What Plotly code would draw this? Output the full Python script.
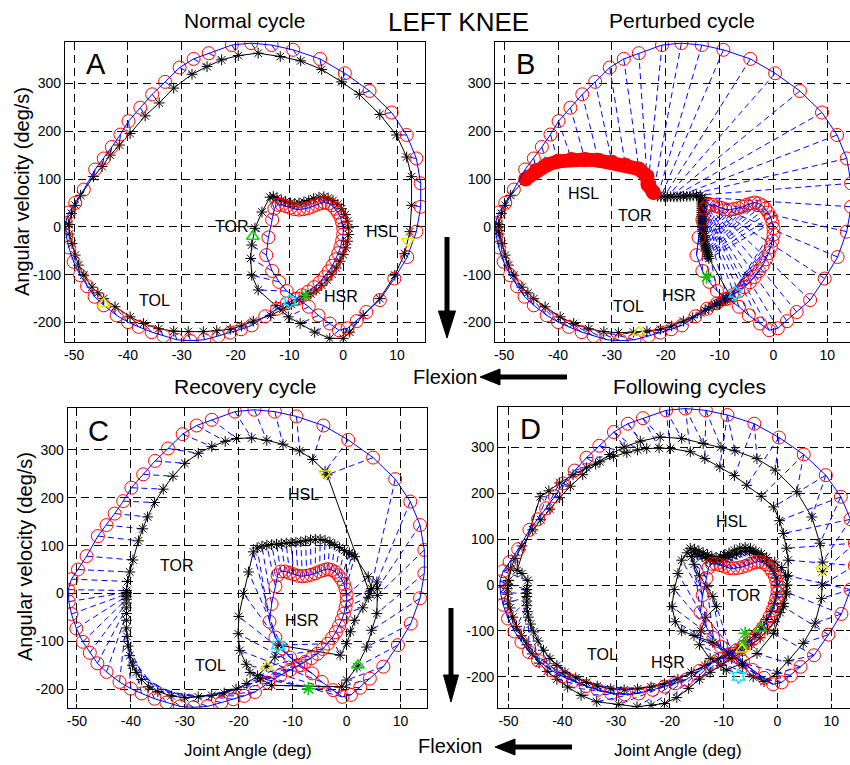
import plotly.graph_objects as go

# ---------------------------------------------------------------------------
# Reference limit cycle (knee angle in deg, angular velocity in deg/s),
# one sample per time step, starting at maximum flexion.
REF = [
    (-51.6, 8), (-51.0, 30), (-49.8, 50), (-48.2, 78), (-46.1, 120), (-44.5, 143),
    (-43.0, 167), (-41.4, 193), (-39.9, 221), (-37.7, 249), (-35.5, 277), (-33.1, 303),
    (-30.4, 333), (-27.8, 351), (-25.0, 363), (-20.7, 380), (-17.1, 384), (-13.3, 380),
    (-9.3, 370), (-4.3, 351), (0.3, 321), (4.9, 284), (9.0, 239), (11.8, 192),
    (13.6, 143), (14.4, 91), (14.4, 42), (13.6, -10), (11.9, -63), (9.5, -108),
    (6.8, -153), (4.3, -178), (2.5, -197), (0.8, -212), (-0.8, -216), (-2.5, -202),
    (-4.6, -185), (-6.4, -167), (-8.5, -150), (-10.5, -134), (-11.9, -115), (-13.2, -92),
    (-14.3, -59), (-13.9, -22), (-13.2, 15),
    (-12.8, 38), (-12.2, 46), (-11.4, 46), (-10.6, 43), (-9.8, 40), (-9.0, 37),
    (-8.2, 36), (-7.4, 37), (-6.6, 39), (-5.8, 42), (-5.0, 46), (-4.2, 49),
    (-3.5, 51), (-2.8, 49), (-2.1, 45), (-1.5, 38), (-1.0, 30), (-0.5, 20),
    (-0.2, 9), (0.0, -3), (0.0, -16), (-0.2, -29), (-0.5, -42), (-0.9, -55),
    (-1.4, -68), (-2.0, -81), (-2.7, -93), (-3.5, -105), (-4.4, -116), (-5.4, -126),
    (-6.5, -135), (-7.7, -143), (-9.0, -151), (-10.5, -160), (-12.3, -171), (-14.5, -187),
    (-17.0, -206), (-19.0, -214), (-21.0, -221), (-23.2, -228), (-25.8, -236), (-28.4, -238),
    (-30.9, -236), (-33.4, -228), (-35.6, -220), (-38.0, -209), (-40.0, -199), (-42.1, -185),
    (-44.5, -164), (-46.2, -146), (-47.6, -124), (-48.9, -101), (-50.1, -73), (-51.0, -43),
    (-51.5, -17),
]

# Measured knee trajectory, normal cycle (same time steps as REF)
NORMAL = [
    (-51.0, 5), (-50.5, 28), (-49.8, 45), (-48.8, 66), (-46.4, 105), (-44.8, 126),
    (-43.3, 150), (-41.6, 171), (-39.6, 195), (-36.8, 232), (-34.2, 259), (-31.5, 290),
    (-28.1, 319), (-25.3, 335), (-22.6, 349), (-19.5, 358), (-15.8, 363), (-11.7, 356),
    (-7.9, 347), (-4.0, 329), (-0.3, 303), (3.0, 277), (6.8, 235), (9.9, 192),
    (11.8, 146), (12.7, 105), (12.7, 45), (12.4, -10), (11.4, -56), (9.6, -101),
    (6.8, -150), (3.7, -185), (1.2, -220), (0.0, -233), (-2.5, -233), (-5.3, -220),
    (-8.0, -202), (-10.2, -188), (-12.5, -165), (-15.8, -132), (-17.0, -101), (-17.2, -66),
    (-17.0, -38), (-16.4, -3), (-15.1, 31),
    (-13.6, 62), (-13.0, 64), (-12.3, 60), (-11.5, 56), (-10.7, 53), (-9.8, 50),
    (-9.0, 49), (-8.2, 50), (-7.3, 52), (-6.4, 55), (-5.5, 59), (-4.5, 62),
    (-3.6, 63), (-2.8, 60), (-1.9, 55), (-1.0, 47), (-0.3, 38), (0.4, 26),
    (0.8, 12), (1.0, -2), (1.0, -16), (0.8, -30), (0.5, -44), (0.0, -58),
    (-0.6, -72), (-1.3, -86), (-2.1, -99), (-3.0, -111), (-4.0, -122), (-5.0, -132),
    (-6.0, -140), (-7.0, -145), (-8.2, -153), (-9.6, -162), (-11.2, -172), (-13.5, -185),
    (-16.7, -197), (-18.9, -207), (-21.0, -214), (-23.5, -217), (-26.0, -219), (-28.8, -219),
    (-31.5, -218), (-34.3, -213), (-37.1, -202), (-39.6, -188), (-42.4, -167), (-44.5, -150),
    (-45.6, -138), (-46.7, -126), (-48.2, -101), (-49.2, -80), (-49.8, -59), (-50.4, -35),
    (-50.9, -15),
]

# Perturbed cycle
PERTURBED = [
    (-51.0, 5), (-50.5, 28), (-49.8, 45), (-48.8, 66), (-46.0, 100), (-44.0, 118),
    (-42.0, 130), (-40.0, 137), (-37.5, 141), (-35.0, 141), (-32.5, 139), (-30.0, 135),
    (-27.5, 129), (-25.0, 121), (-23.5, 106), (-23.3, 88), (-22.3, 72), (-21.5, 64),
    (-20.9, 63), (-20.3, 63), (-19.7, 63), (-19.1, 63), (-18.5, 63), (-17.9, 63),
    (-17.3, 63), (-16.7, 64), (-16.1, 64), (-15.5, 64), (-14.9, 65), (-14.3, 65),
    (-13.6, 66), (-13.3, 62), (-13.3, 58), (-13.3, 54), (-13.3, 50), (-13.3, 46),
    (-13.3, 42), (-13.3, 38), (-13.3, 34), (-13.3, 30), (-13.3, 26), (-13.3, 22),
    (-13.3, 18), (-13.3, 14), (-13.3, 10), (-13.3, 6), (-13.2, 2), (-13.2, -2),
    (-13.2, -6), (-13.1, -10), (-13.1, -14), (-13.0, -18), (-13.0, -22), (-12.9, -26),
    (-12.9, -30), (-12.8, -34), (-12.7, -38), (-12.6, -42), (-12.5, -46), (-12.4, -50),
    (-12.3, -54), (-12.2, -58), (-12.1, -62), (-12.0, -66),
    (-8.0, -145), (-8.3, -147), (-8.6, -149), (-8.9, -151), (-9.2, -153), (-9.5, -155),
    (-9.8, -157), (-10.1, -159), (-10.5, -161), (-10.9, -163), (-11.4, -166), (-12.0, -170),
    (-12.7, -174), (-13.5, -180), (-15.0, -190), (-16.7, -197), (-18.9, -207), (-21.0, -214),
    (-23.5, -218), (-26.0, -220), (-28.8, -221), (-31.5, -219), (-34.3, -213), (-37.1, -202),
    (-39.6, -188), (-42.4, -167), (-44.5, -150), (-45.6, -138), (-46.7, -126), (-48.2, -101),
    (-49.2, -80), (-49.8, -59), (-50.4, -35), (-50.9, -15), (-51.0, -8), (-51.0, 0),
]
# samples of the perturbed cycle lying on the stalled swing segment
STALL_START, STALL_END = 4, 17

# Recovery cycle
RECOVERY = [
    (-40.8, 6), (-40.6, 25), (-40.2, 45), (-39.6, 70), (-38.6, 110), (-37.8, 135),
    (-36.9, 160), (-35.6, 190), (-34.0, 218), (-32.2, 245), (-30.0, 272), (-27.5, 293),
    (-25.0, 307), (-22.5, 318), (-20.4, 324), (-17.6, 325), (-14.8, 320), (-11.8, 312),
    (-8.7, 298), (-6.3, 280), (-4.0, 255), (-3.6, 248), (4.3, 0), (5.6, 24),
    (5.7, 10), (5.7, -4), (5.6, -42), (4.6, -77), (3.7, -112), (1.9, -154),
    (0.0, -181), (-0.9, -195), (-13.9, -192), (-16.0, -178), (-17.9, -165), (-18.6, -148),
    (-19.8, -119), (-20.1, -84), (-20.0, -48), (-19.1, 0), (-18.2, 45), (-17.3, 87),
    (-16.6, 95), (-15.7, 99), (-14.8, 101), (-13.9, 102), (-13.0, 103), (-12.1, 104),
    (-11.2, 105), (-10.3, 106), (-9.4, 107), (-8.5, 108), (-7.6, 110), (-6.7, 112),
    (-5.8, 113), (-4.9, 113), (-4.0, 111), (-3.1, 107), (-2.2, 102), (-1.3, 96),
    (-0.4, 90), (0.5, 85), (1.0, 81), (1.5, 77), (4.0, 35), (4.6, 10),
    (4.0, -8), (3.0, -30), (1.5, -56), (0.7, -80), (0.0, -105), (-1.2, -129),
    (-12.7, -108), (-13.3, -133), (-14.8, -153), (-16.5, -172), (-18.5, -188), (-20.5, -200),
    (-22.7, -208), (-25.0, -213), (-27.5, -216), (-30.0, -218), (-32.5, -214), (-35.0, -205),
    (-36.7, -195), (-38.0, -180), (-39.0, -165), (-39.7, -150), (-40.2, -130), (-40.5, -110),
    (-40.7, -90), (-40.8, -72), (-40.8, -56), (-40.8, -42), (-40.8, -30), (-40.8, -20),
    (-40.8, -12), (-40.8, -6), (-40.8, -1), (-40.8, 2),
]

# Following cycles (two successive cycles)
FOLLOW_1 = [
    (-50.0, 10), (-49.6, 35), (-48.8, 58), (-47.5, 85), (-45.5, 120), (-44.0, 142),
    (-42.3, 165), (-40.5, 190), (-38.5, 215), (-36.2, 240), (-33.8, 263), (-31.2, 284),
    (-28.5, 300), (-25.5, 313), (-21.8, 322), (-17.8, 319), (-13.8, 308), (-10.5, 300),
    (-7.9, 292), (-3.8, 275), (-0.4, 250), (3.6, 203), (6.4, 148), (7.9, 91),
    (8.4, 50), (8.4, 29), (8.3, 0), (8.2, -29), (7.0, -83), (4.8, -127),
    (2.0, -165), (-0.1, -192), (-2.5, -210), (-4.5, -200), (-6.5, -175), (-9.0, -150),
    (-12.0, -125), (-15.5, -110), (-17.8, -100), (-19.0, -80), (-19.6, -47), (-19.2, -10),
    (-18.5, 25), (-17.8, 54), (-16.8, 70), (-16.2, 80), (-15.4, 78), (-14.6, 74),
    (-13.8, 70), (-13.0, 66), (-12.2, 62), (-11.4, 60), (-10.6, 62), (-9.8, 66),
    (-9.0, 70), (-8.0, 76), (-7.0, 80), (-6.0, 82), (-5.0, 80), (-4.0, 74),
    (-3.0, 68), (-2.0, 60), (-0.5, 50), (0.8, 38), (1.5, 20), (1.8, 0),
    (1.7, -20), (1.2, -40), (0.5, -60), (-0.5, -80), (-1.8, -98), (-3.2, -115),
    (-4.8, -130), (-6.5, -145), (-8.5, -160), (-10.5, -175), (-12.5, -190), (-14.5, -205),
    (-16.5, -225), (-18.7, -245), (-21.0, -258), (-23.5, -262), (-26.1, -265), (-29.5, -260),
    (-33.6, -254), (-36.5, -240), (-39.0, -222), (-41.0, -205), (-42.8, -188), (-44.3, -170),
    (-45.6, -150), (-46.6, -130), (-47.6, -110), (-48.5, -90), (-49.2, -70), (-49.7, -50),
    (-50.0, -35), (-50.2, -20), (-50.2, -8), (-50.1, 2),
]
FOLLOW_2 = [
    (-46.6, -10), (-46.4, 10), (-47.5, 25), (-48.4, 32), (-44.1, 192), (-42.5, 205),
    (-40.5, 222), (-38.0, 240), (-35.5, 255), (-33.0, 268), (-30.5, 280), (-28.0, 288),
    (-26.0, 294), (-24.3, 297), (-22.0, 298), (-19.9, 297), (-16.2, 290), (-13.5, 275),
    (-10.7, 257), (-8.0, 238), (-5.7, 217), (-3.0, 193), (-0.7, 170), (0.4, 140),
    (1.1, 112), (1.7, 80), (2.0, 54), (2.0, 20), (1.6, -15), (1.1, -47),
    (-0.7, -105), (-3.8, -149), (-6.5, -170), (-9.5, -185), (-12.5, -160), (-14.5, -130),
    (-14.2, -100), (-13.3, -70), (-11.3, -47), (-12.0, -25), (-13.1, -4), (-14.5, 20),
    (-15.5, 45), (-16.0, 62), (-15.5, 70), (-14.8, 66), (-14.0, 62), (-13.2, 58),
    (-12.4, 55), (-11.6, 53), (-10.8, 54), (-10.0, 57), (-9.2, 60), (-8.4, 64),
    (-7.6, 68), (-6.8, 72), (-6.0, 74), (-5.2, 74), (-4.4, 70), (-3.6, 66),
    (-2.8, 60), (-2.0, 52), (-1.2, 42), (-0.6, 30), (-0.2, 15), (0.0, 0),
    (-0.2, -20), (-0.6, -40), (-1.2, -58), (-2.0, -75), (-3.0, -92), (-4.2, -108),
    (-5.6, -122), (-7.2, -135), (-9.0, -148), (-11.0, -160), (-13.5, -175), (-16.0, -190),
    (-18.5, -205), (-21.0, -215), (-23.5, -222), (-26.0, -226), (-28.5, -228), (-31.0, -226),
    (-33.5, -220), (-35.5, -212), (-37.5, -202), (-39.5, -190), (-41.0, -175), (-42.3, -160),
    (-43.5, -142), (-44.5, -122), (-45.3, -102), (-45.9, -85), (-46.3, -70), (-46.5, -58),
    (-46.6, -45), (-46.6, -35), (-46.6, -25), (-46.6, -18),
]

# Gait events: (x, y, symbol, colour)
EVENTS = {
    "A": [(-16.8, -20, "triangle-up-open", "#00dd00"), (-44.5, -160, "triangle-up-open", "#e8e800"),
          (12.0, -30, "triangle-down-open", "#e8e800"), (-9.9, -155, "hexagram-open", "#00e5ff"),
          (-7.0, -143, "asterisk-open", "#00cc00")],
    "B": [(-12.4, -105, "asterisk-open", "#00cc00"), (-7.1, -139, "hexagram-open", "#00e5ff"),
          (-25.0, -220, "triangle-up-open", "#e8e800")],
    "C": [(-4.0, 250, "triangle-down-open", "#e8e800"), (-12.7, -108, "hexagram-open", "#00e5ff"),
          (-14.8, -153, "triangle-up-open", "#e8e800"), (2.1, -150, "triangle-up-open", "#00dd00"),
          (-7.1, -199, "asterisk-open", "#00cc00")],
    "D": [(8.3, 33, "triangle-down-open", "#e8e800"), (-6.0, -105, "asterisk-open", "#00cc00"),
          (-6.3, -128, "asterisk-open", "#00cc00"), (-3.2, -94, "triangle-up-open", "#00dd00"),
          (-6.6, -140, "triangle-up-open", "#e8e800"), (-7.2, -199, "hexagram-open", "#00e5ff")],
}

# Event labels placed in each panel: (text, x, y)
LABELS = {
    "A": [("TOR", -20.7, 0), ("HSL", 7.1, -10), ("TOL", -35.1, -153), ("HSR", -0.5, -146)],
    "B": [("HSL", -35.3, 70), ("TOR", -25.8, 24), ("HSR", -17.6, -143), ("TOL", -26.9, -167)],
    "C": [("HSL", -8.0, 206), ("TOR", -31.5, 59), ("HSR", -8.3, -56), ("TOL", -25.3, -150)],
    "D": [("HSL", -8.5, 138), ("TOR", -6.3, -22), ("TOL", -32.6, -152), ("HSR", -20.3, -169)],
}

PANEL_TITLES = {"A": "Normal cycle", "B": "Perturbed cycle",
                "C": "Recovery cycle", "D": "Following cycles"}
X_TICKS = [-50, -40, -30, -20, -10, 0, 10]
X_TICK_TEXT = ["-50", "-40", "-30", "-20", "-10", "0", "10"]
Y_TICKS = [-200, -100, 0, 100, 200, 300]
Y_TICK_TEXT = ["-200", "-100", "0", "100", "200", "300"]

# ---------------------------------------------------------------------------
W, H = 850, 765
FONT = "Liberation Sans, Arial, Helvetica, sans-serif"


def px(x):
    return x / W


def py(y):
    return 1 - y / H


# panel frames in pixels: (left, right, top, bottom), axis ranges
PANELS = {
    "A": dict(ax="", frame=(65, 425, 41.7, 341.7), xr=[-51.7, 15.2], yr=[-240, 387]),
    "B": dict(ax="2", frame=(495, 850, 41.7, 341.7), xr=[-51.7, 14.2], yr=[-240, 387]),
    "C": dict(ax="3", frame=(67.7, 427.3, 408.3, 708.3), xr=[-51.7, 14.95], yr=[-240, 387]),
    "D": dict(ax="4", frame=(498.3, 850, 406.7, 707.7), xr=[-51.9, 13.5], yr=[-267, 388]),
}

TRAJECTORIES = {"A": [NORMAL], "B": [PERTURBED], "C": [RECOVERY], "D": [FOLLOW_1, FOLLOW_2]}


def unzip(points):
    return [p[0] for p in points], [p[1] for p in points]


fig = go.Figure()
ref_x, ref_y = unzip(REF)

for key, panel in PANELS.items():
    xa, ya = "x" + panel["ax"], "y" + panel["ax"]
    trajs = TRAJECTORIES[key]

    # dashed links between simultaneous samples of reference and measured cycles
    cx, cy = [], []
    for traj in trajs:
        tx, ty = unzip(traj)
        for a, b, c, d in zip(ref_x, ref_y, tx, ty):
            cx += [a, c, None]
            cy += [b, d, None]
    fig.add_trace(go.Scatter(x=cx, y=cy, mode="lines", xaxis=xa, yaxis=ya,
                             line=dict(color="#0000ff", width=1, dash="6px,4px"),
                             hoverinfo="skip", showlegend=False))

    # measured trajectories
    for traj in trajs:
        tx, ty = unzip(traj)
        fig.add_trace(go.Scatter(
            x=tx + [tx[0]], y=ty + [ty[0]], mode="lines+markers", xaxis=xa, yaxis=ya,
            line=dict(color="black", width=1),
            marker=dict(symbol="asterisk-open", size=9, color="black",
                        line=dict(color="black", width=1)),
            showlegend=False))

    # stalled swing segment of the perturbed cycle
    if key == "B":
        sx, sy = unzip(PERTURBED[STALL_START:STALL_END])
        fig.add_trace(go.Scatter(
            x=sx, y=sy, mode="lines+markers", xaxis=xa, yaxis=ya,
            line=dict(color="#ff0000", width=14),
            marker=dict(symbol="circle", size=15, color="#ff0000"),
            showlegend=False))

    # reference cycle: red circles joined by a blue line
    fig.add_trace(go.Scatter(
        x=ref_x, y=ref_y, mode="markers", xaxis=xa, yaxis=ya,
        marker=dict(symbol="circle-open", size=13, color="#ff0000",
                    line=dict(color="#ff0000", width=1)),
        showlegend=False))
    fig.add_trace(go.Scatter(
        x=ref_x + [ref_x[0]], y=ref_y + [ref_y[0]], mode="lines", xaxis=xa, yaxis=ya,
        line=dict(color="#0000ff", width=1), showlegend=False))

    # gait events
    for ex, ey, sym, col in EVENTS[key]:
        fig.add_trace(go.Scatter(
            x=[ex], y=[ey], mode="markers", xaxis=xa, yaxis=ya,
            marker=dict(symbol=sym, size=11, color=col, line=dict(color=col, width=1.5)),
            showlegend=False))

    # axes
    l, r, t, b = panel["frame"]
    common = dict(showline=True, mirror="ticks", linecolor="black", linewidth=1.3,
                  showgrid=True, gridcolor="black", gridwidth=1, griddash="8px,5px",
                  zeroline=False, ticks="inside", ticklen=4, tickcolor="black",
                  tickfont=dict(family=FONT, size=14, color="black"), automargin=False)
    fig.layout["xaxis" + panel["ax"]] = dict(
        domain=[px(l), px(r)], range=panel["xr"], anchor=ya,
        tickvals=X_TICKS, ticktext=X_TICK_TEXT, **common)
    fig.layout["yaxis" + panel["ax"]] = dict(
        domain=[py(b), py(t)], range=panel["yr"], anchor=xa,
        tickvals=Y_TICKS, ticktext=Y_TICK_TEXT, **common)

    # panel letter and event labels
    fig.add_annotation(x=-46.0, y=340, xref=xa, yref=ya, text=key, showarrow=False,
                       font=dict(family=FONT, size=29, color="black"))
    for text, lx, ly in LABELS[key]:
        fig.add_annotation(x=lx, y=ly, xref=xa, yref=ya, text=text, showarrow=False,
                           font=dict(family=FONT, size=16, color="black"))

# titles and axis labels (pixel positions)
TEXTS = [
    ("Normal cycle", 245, 20, 21, 0),
    ("Perturbed cycle", 682, 20, 21, 0),
    ("LEFT KNEE", 458, 22, 26, 0),
    ("Recovery cycle", 245, 386, 21, 0),
    ("Following cycles", 689, 386, 21, 0),
    ("Angular velocity (deg/s)", 22, 192, 20, -90),
    ("Angular velocity (deg/s)", 25, 557, 20, -90),
    ("Joint Angle (deg)", 248, 750, 17, 0),
    ("Joint Angle (deg)", 678, 750, 17, 0),
    ("Flexion", 445, 377, 20, 0),
    ("Flexion", 450, 746, 20, 0),
]
for text, x, y, size, angle in TEXTS:
    fig.add_annotation(x=px(x), y=py(y), xref="paper", yref="paper", text=text,
                       showarrow=False, textangle=angle, xanchor="center", yanchor="middle",
                       font=dict(family=FONT, size=size, color="black"))


# direction arrows drawn in pixel space
def arrow(x0, y0, x1, y1, head, half):
    dx, dy = x1 - x0, y1 - y0
    n = (dx * dx + dy * dy) ** 0.5
    ux, uy = dx / n, dy / n
    bx, by = x1 - ux * head, y1 - uy * head
    fig.add_shape(type="line", xref="paper", yref="paper",
                  x0=px(x0), y0=py(y0), x1=px(bx + ux * 2), y1=py(by + uy * 2),
                  line=dict(color="black", width=5))
    p1 = (bx - uy * half, by + ux * half)
    p2 = (bx + uy * half, by - ux * half)
    path = "M {} {} L {} {} L {} {} Z".format(px(x1), py(y1), px(p1[0]), py(p1[1]),
                                              px(p2[0]), py(p2[1]))
    fig.add_shape(type="path", xref="paper", yref="paper", path=path,
                  fillcolor="black", line=dict(color="black", width=1))


arrow(567, 377, 480, 377, 20, 8)
arrow(572, 747, 495, 747, 20, 8)
arrow(447, 237, 447, 338, 27, 8.5)
arrow(451, 608, 451, 702, 27, 7.5)

fig.update_layout(width=W, height=H, margin=dict(l=0, r=0, t=0, b=0),
                  template="none", paper_bgcolor="white", plot_bgcolor="white",
                  showlegend=False)

fig.write_html("out.html")
